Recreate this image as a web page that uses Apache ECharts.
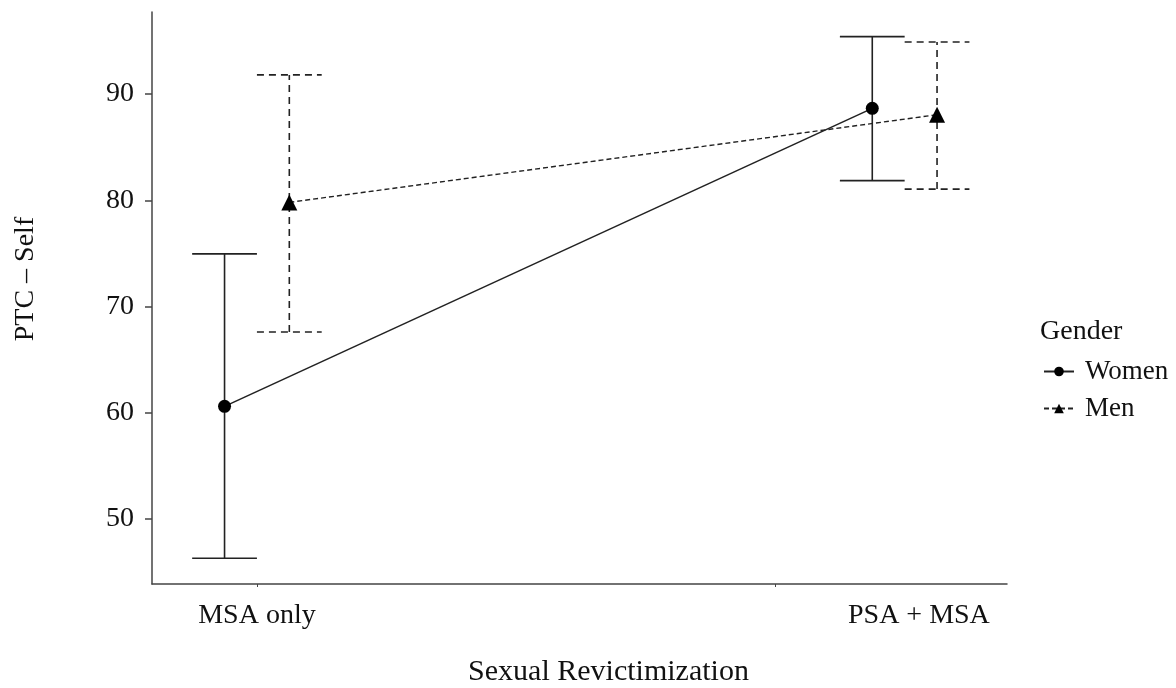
<!DOCTYPE html>
<html>
<head>
<meta charset="utf-8">
<script src="https://cdn.jsdelivr.net/npm/echarts@6/dist/echarts.min.js"></script>
<style>
  html, body { margin: 0; padding: 0; background: #fff; }
  #main { width: 1176px; height: 688px; }
</style>
</head>
<body>
<div id="main"></div>
<script>
  // values
  const categories = ['MSA only', 'PSA + MSA'];
  const womenMean = [60.6, 88.65];
  const womenLower = [46.3, 81.85];
  const womenUpper = [74.95, 95.4];
  const menMean = [79.8, 88.05];
  const menLower = [67.6, 81.05];
  const menUpper = [91.8, 94.9];
  const yTicks = [50, 60, 70, 80, 90];

  const dodge = 0.05; // position dodge, half of errorbar width
  const font = 'Liberation Serif, Times New Roman, serif';

  // category i sits at x = i + 1, groups dodged to either side
  const pts = (vals, off) => vals.map((v, i) => [i + 1 + off, v]);
  const bars = (lo, hi, off) => lo.map((v, i) => [i + 1 + off, v, hi[i]]);

  function errorBar(dash) {
    return function (params, api) {
      const x = api.value(0);
      const lo = api.coord([x, api.value(1)]);
      const hi = api.coord([x, api.value(2)]);
      const l = api.coord([x - dodge, api.value(1)])[0];
      const r = api.coord([x + dodge, api.value(1)])[0];
      const style = { stroke: '#222', lineWidth: 1.6, lineDash: dash, fill: null };
      return {
        type: 'group',
        children: [
          { type: 'line', shape: { x1: lo[0], y1: lo[1], x2: hi[0], y2: hi[1] }, style: style },
          { type: 'line', shape: { x1: l, y1: lo[1], x2: r, y2: lo[1] }, style: style },
          { type: 'line', shape: { x1: l, y1: hi[1], x2: r, y2: hi[1] }, style: style }
        ]
      };
    };
  }

  const chart = echarts.init(document.getElementById('main'));
  const option = {
    animation: false,
    backgroundColor: '#fff',
    textStyle: { fontFamily: font, color: '#111' },
    grid: { left: 152, right: 169, top: 12, bottom: 104, outerBoundsMode: 'none' },
    title: {
      text: 'Gender',
      left: 1035,
      top: 313,
      textStyle: { fontFamily: font, fontSize: 28, fontWeight: 'normal', color: '#111' }
    },
    legend: {
      orient: 'vertical',
      left: 1038,
      top: 351,
      itemWidth: 30,
      itemHeight: 12,
      itemGap: 6,
      textStyle: { fontFamily: font, fontSize: 27, color: '#111', lineHeight: 31, padding: [0, 0, 0, 6] },
      data: ['Women', 'Men']
    },
    xAxis: {
      type: 'value',
      min: 0.838,
      max: 2.158,
      splitLine: { show: false },
      axisLine: { lineStyle: { color: '#444', width: 1.5 } },
      axisTick: { show: true, length: 3, lineStyle: { color: '#444' }, customValues: [1, 1.8] },
      axisLabel: {
        fontFamily: font,
        fontSize: 28,
        color: '#111',
        margin: 18,
        customValues: [1, 2.022],
        formatter: v => (v < 1.5 ? categories[0] : categories[1])
      },
      name: 'Sexual Revictimization',
      nameLocation: 'middle',
      nameGap: 73,
      nameTextStyle: { fontFamily: font, fontSize: 30, color: '#111', padding: [0, 0, 0, 58] }
    },
    yAxis: {
      type: 'value',
      min: 43.88,
      max: 97.72,
      splitLine: { show: false },
      axisLine: { show: true, lineStyle: { color: '#444', width: 1.5 } },
      axisTick: { show: true, length: 7, lineStyle: { color: '#444', width: 1.5 }, customValues: yTicks },
      axisLabel: { fontFamily: font, fontSize: 28, color: '#111', margin: 18, customValues: yTicks },
      name: 'PTC – Self',
      nameLocation: 'middle',
      nameGap: 112,
      nameTextStyle: { fontFamily: font, fontSize: 28, color: '#111', padding: [0, 0, 0, 38] }
    },
    series: [
      {
        name: 'Women',
        type: 'line',
        data: pts(womenMean, -dodge),
        symbol: 'circle',
        symbolSize: 13,
        itemStyle: { color: '#000' },
        lineStyle: { color: '#222', width: 1.6 },
        z: 5
      },
      {
        name: 'Men',
        type: 'line',
        data: pts(menMean, dodge),
        symbol: 'triangle',
        symbolSize: 16,
        itemStyle: { color: '#000' },
        lineStyle: { color: '#222', width: 1.4, type: [5, 3] },
        z: 5
      },
      {
        type: 'custom',
        renderItem: errorBar(null),
        data: bars(womenLower, womenUpper, -dodge),
        z: 3
      },
      {
        type: 'custom',
        renderItem: errorBar([7, 5]),
        data: bars(menLower, menUpper, dodge),
        z: 3
      }
    ]
  };
  chart.setOption(option);
</script>
</body>
</html>
